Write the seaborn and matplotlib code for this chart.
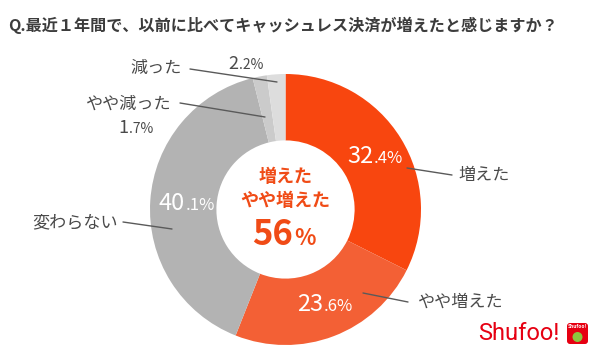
import numpy as np
import matplotlib.pyplot as plt
from matplotlib.patches import FancyBboxPatch
import seaborn as sns

# data
categories = ["増えた", "やや増えた", "変わらない", "やや減った", "減った"]
shares = [32.4, 23.6, 40.1, 1.7, 2.2]
slice_colors = ["#F8460F", "#F36035", "#B3B3B3", "#CBCBCB", "#DDDDDD"]
center_lines = ["増えた", "やや増えた"]
title = "Q.最近１年間で、以前に比べてキャッシュレス決済が増えたと感じますか？"

W, H = 594, 364
CX, CY, R = 285.5, 209.5, 135.5
TEXT = "#4a4a4a"
ACCENT = "#F04B16"

sns.set_theme(style="white")
plt.rcParams["font.family"] = ["Noto Sans CJK JP", "DejaVu Sans"]


def px(x, y):
    # picture coordinates (y down) -> axes coordinates (y up)
    return x, H - y


def split_pct(ax, x, y, value, big, small, color, weight="normal"):
    whole, dec = f"{value:.1f}".split(".")
    ax.text(x, y, whole, ha="right", va="baseline", fontsize=big,
            color=color, fontweight=weight)
    ax.text(x + 1, y, "." + dec + "%", ha="left", va="baseline",
            fontsize=small, color=color, fontweight=weight)


fig = plt.figure(figsize=(W / 100, H / 100), dpi=100)
ax = fig.add_axes([0, 0, 1, 1])

ax.pie(
    shares,
    colors=slice_colors,
    startangle=90,
    counterclock=False,
    center=px(CX, CY),
    radius=R,
    frame=True,
    wedgeprops=dict(width=R * 0.49, linewidth=0),
)
ax.set_xlim(0, W)
ax.set_ylim(0, H)
ax.set_aspect("equal")
ax.axis("off")

# percentages inside the large slices
cum = np.cumsum([0] + shares)
for i in range(3):
    mid = np.deg2rad(90 - (cum[i] + shares[i] / 2) * 3.6)
    x = CX + 0.75 * R * np.cos(mid)
    y = H - CY + 0.75 * R * np.sin(mid) - 7
    split_pct(ax, x + 1, y, shares[i], 17, 12, "white")

# outside labels with leader lines
labels = [
    (categories[0], (458, 175), "left", [(407, 168), (452, 175)]),
    (categories[1], (418, 302), "left", [(363, 293), (408, 302)]),
    (categories[2], (118, 222), "right", [(123, 222), (172, 229)]),
    (categories[3], (172, 104), "right", [(180, 103), (265, 117)]),
    (categories[4], (182, 68), "right", [(190, 69), (277, 82)]),
]
for name, (tx, ty), ha, line in labels:
    ax.text(*px(tx, ty), name, ha=ha, va="center", fontsize=12.3, color=TEXT)
    xs, ys = zip(*[px(a, b) for a, b in line])
    ax.plot(xs, ys, color="#5a5a5a", lw=1)

split_pct(ax, *px(128, 133), shares[3], 13, 10, TEXT)
split_pct(ax, *px(238, 69), shares[4], 13, 10, TEXT)

# centre summary
ax.text(*px(CX, 177), center_lines[0], ha="center", va="center",
        fontsize=13, color=ACCENT, fontweight="bold")
ax.text(*px(CX, 201), center_lines[1], ha="center", va="center",
        fontsize=13, color=ACCENT, fontweight="bold")
total = round(shares[0] + shares[1])
ax.text(*px(CX + 8, 245), f"{total}", ha="right", va="baseline",
        fontsize=25, color=ACCENT, fontweight="bold")
ax.text(*px(CX + 9, 245), "%", ha="left", va="baseline",
        fontsize=16, color=ACCENT, fontweight="bold")

# title
ax.text(*px(8, 25), title, ha="left", va="center", fontsize=11.6,
        color="#3c3c3c", fontweight="bold")

# logo
ax.text(*px(519, 333), "Shufoo!", ha="center", va="center", fontsize=17,
        color="#E60012", family=["Roboto", "DejaVu Sans"])
ax.add_patch(FancyBboxPatch(px(567, 344), 21, 21,
                            boxstyle="round,pad=0,rounding_size=3",
                            fc="#E60012", ec="none"))
ax.text(*px(577.5, 327), "Shufoo!", ha="center", va="center", fontsize=3.5,
        color="white", fontweight="bold")
ax.add_patch(plt.Circle(px(577.5, 337), 5, fc="#8CC63F", ec="none"))

fig.savefig("out.png", dpi=100)
